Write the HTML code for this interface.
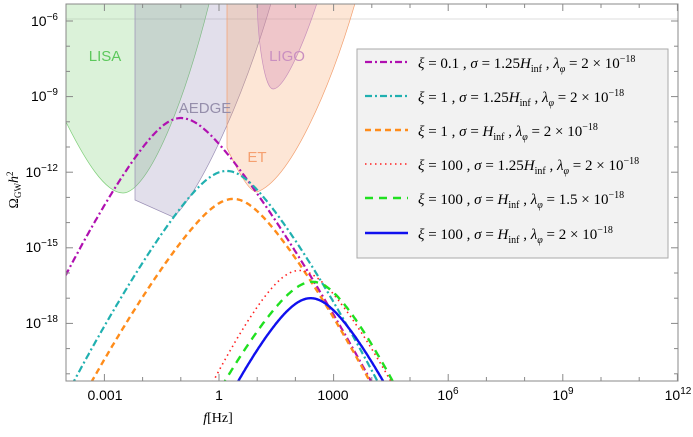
<!DOCTYPE html>
<html><head><meta charset="utf-8"><style>
html,body{margin:0;padding:0;background:#fff;}
svg text{font-family:"Liberation Sans",sans-serif;}
.s{font-family:"Liberation Serif",serif;}
</style></head><body>
<svg id="c" width="693" height="432" viewBox="0 0 693 432" xmlns="http://www.w3.org/2000/svg">
<defs><clipPath id="cp"><rect x="66" y="4" width="612" height="377"/></clipPath></defs>
<g clip-path="url(#cp)">
<line x1="66" y1="19" x2="678" y2="19" stroke="#ddd" stroke-width="1"/>
<path d="M66,0 L66,122 C85,160 105,193 123,193 C145,193 180,120 210,0 Z" fill="#8fd88a" fill-opacity="0.32" stroke="#7fcf7a" stroke-width="0.7"/>
<path d="M135,0 L135,200 L173,217 C195,200 240,110 272,0 Z" fill="#8c7fae" fill-opacity="0.25" stroke="#9a8fb5" stroke-width="0.7"/>
<path d="M227,0 L227,148 C235,165 248,192 257,192 C290,180 330,90 356,0 Z" fill="#f7a46b" fill-opacity="0.28" stroke="#f2a070" stroke-width="0.7"/>
<path d="M257,0 C258,45 265,89 273,89 C285,89 305,40 318,0 Z" fill="#d07fb0" fill-opacity="0.3" stroke="#c890bb" stroke-width="0.7"/>
<text x="105" y="61" font-size="15" fill="#5cc85c" text-anchor="middle">LISA</text>
<text x="205" y="113" font-size="15" fill="#958eab" text-anchor="middle">AEDGE</text>
<text x="287" y="61" font-size="15" fill="#c98fc0" text-anchor="middle">LIGO</text>
<text x="257" y="162" font-size="15" fill="#f5a070" text-anchor="middle">ET</text>
<g id="curves"></g>
</g>
<rect x="66" y="4" width="612" height="377" fill="none" stroke="#888" stroke-width="1"/>
<g id="ticks" stroke="#888" stroke-width="1"></g>
<g font-size="14" fill="#000">
<text x="105" y="400" text-anchor="middle">0.001</text>
<text x="219" y="400" text-anchor="middle">1</text>
<text x="333" y="400" text-anchor="middle">1000</text>
<text x="448" y="400" text-anchor="middle">10<tspan dy="-6" font-size="10">6</tspan></text>
<text x="563" y="400" text-anchor="middle">10<tspan dy="-6" font-size="10">9</tspan></text>
<text x="678" y="400" text-anchor="middle">10<tspan dy="-6" font-size="10">12</tspan></text>
<text x="58" y="26" text-anchor="end">10<tspan dy="-6" font-size="10">−6</tspan></text>
<text x="58" y="101" text-anchor="end">10<tspan dy="-6" font-size="10">−9</tspan></text>
<text x="58" y="177" text-anchor="end">10<tspan dy="-6" font-size="10">−12</tspan></text>
<text x="58" y="252" text-anchor="end">10<tspan dy="-6" font-size="10">−15</tspan></text>
<text x="58" y="328" text-anchor="end">10<tspan dy="-6" font-size="10">−18</tspan></text>
</g>
<text class="s" x="218" y="422" font-size="14" text-anchor="middle"><tspan font-style="italic">f</tspan>[Hz]</text>
<text class="s" transform="translate(18,190) rotate(-90)" font-size="14" text-anchor="middle">Ω<tspan font-size="9" dy="3">GW</tspan><tspan dy="-3" font-style="italic">h</tspan><tspan font-size="9" dy="-5">2</tspan></text>
<rect x="357" y="49" width="311" height="209" fill="#f2f2f2" stroke="#aaa" stroke-width="1"/>
<g id="leg" class="s" font-size="14"></g>
</svg>
<script>
var X=function(l){return 219+38.2*l;},Y=function(L){return 21+25.2*(-6-L);};
var H='<i>H</i><sub>inf</sub>',LM=' ,  <i>λ</i><sub><i>φ</i></sub> = ';
var cs=[
 {c:"#b010b0",lp:-1.0,Lp:-9.85,dl:[3,6.2],dr:[5,10.5],d:"7,3,2,3",w:2.2,t:"<i>ξ</i> = 0.1 , <i>σ</i> = 1.25"+H+LM+"2 × 10<sup>−18</sup>"},
 {c:"#20b0b0",lp:0.2,Lp:-11.95,dl:[4.0,8.35],dr:[3.95,8.35],d:"7,3,2,3",w:2.2,t:"<i>ξ</i> = 1 , <i>σ</i> = 1.25"+H+LM+"2 × 10<sup>−18</sup>"},
 {c:"#ff8c1a",lp:0.37,Lp:-13.06,dl:[3.7,7.24],dr:[3.58,7.24],d:"6,4",w:2.4,t:"<i>ξ</i> = 1 , <i>σ</i> = "+H+LM+"2 × 10<sup>−18</sup>"},
 {c:"#ff2020",lp:2.1,Lp:-15.9,dl:[2.25,4.4],dr:[2.4,4.4],d:"1.5,3.5",w:1.6,t:"<i>ξ</i> = 100 , <i>σ</i> = 1.25"+H+LM+"2 × 10<sup>−18</sup>"},
 {c:"#20e020",lp:2.45,Lp:-16.35,dl:[2.3,3.95],dr:[2.1,3.95],d:"8,6",w:2.4,t:"<i>ξ</i> = 100 , <i>σ</i> = "+H+LM+"1.5 × 10<sup>−18</sup>"},
 {c:"#1010ee",lp:2.4,Lp:-17.0,dl:[1.9,3.3],dr:[1.9,3.3],d:"",w:2.4,t:"<i>ξ</i> = 100 , <i>σ</i> = "+H+LM+"2 × 10<sup>−18</sup>"}
];
var W=0.8;
function par(e){var d=e[0],D=e[1],q=0.2*D/(d*d),s=0.8*D/(Math.sqrt(d*d+W*W)-W);return [s,q];}
var ns="http://www.w3.org/2000/svg",g=document.getElementById("curves"),lg=document.getElementById("leg");
var ly=[67,101,135,169,203,238];
cs.forEach(function(o,i){
 var pl=par(o.dl),pr=par(o.dr);
 var p="";for(var l=-4.2;l<=7;l+=0.02){var d=l-o.lp,pp=d<0?pl:pr;var L=o.Lp-pp[0]*(Math.sqrt(d*d+W*W)-W)-pp[1]*d*d;var y=Y(L);if(y>400)continue;p+=(p?"L":"M")+X(l).toFixed(1)+","+y.toFixed(1);}
 var e=document.createElementNS(ns,"path");e.setAttribute("d",p);e.setAttribute("fill","none");e.setAttribute("stroke",o.c);e.setAttribute("stroke-width",o.w);if(o.d)e.setAttribute("stroke-dasharray",o.d);g.appendChild(e);
 var s=document.createElementNS(ns,"line");s.setAttribute("x1",365);s.setAttribute("x2",408);s.setAttribute("y1",ly[i]-5);s.setAttribute("y2",ly[i]-5);s.setAttribute("stroke",o.c);s.setAttribute("stroke-width",o.w);if(o.d)s.setAttribute("stroke-dasharray",o.d);lg.appendChild(s);
 var f=document.createElementNS(ns,"foreignObject");f.setAttribute("x",418);f.setAttribute("y",ly[i]-17);f.setAttribute("width",250);f.setAttribute("height",26);
 f.innerHTML='<div xmlns="http://www.w3.org/1999/xhtml" style="font:15px \'Liberation Serif\',serif;white-space:nowrap;line-height:20px">'+o.t.replace(/<sub>/g,'<sub style="font-size:10px">').replace(/<sup>/g,'<sup style="font-size:10px">')+'</div>';
 lg.appendChild(f);
});
var tk=document.getElementById("ticks"),h="";
for(var l=-3;l<=12;l++){var x=X(l),m=(l%3==0)?7:4;h+='<line x1="'+x+'" x2="'+x+'" y1="381" y2="'+(381-m)+'"/><line x1="'+x+'" x2="'+x+'" y1="4" y2="'+(4+m)+'"/>';}
for(var L=-6;L>=-20;L--){var y=Y(L),m=(L%3==0)?7:4;h+='<line x1="66" x2="'+(66+m)+'" y1="'+y+'" y2="'+y+'"/><line x1="678" x2="'+(678-m)+'" y1="'+y+'" y2="'+y+'"/>';}
tk.innerHTML=h;
</script>
</body></html>
